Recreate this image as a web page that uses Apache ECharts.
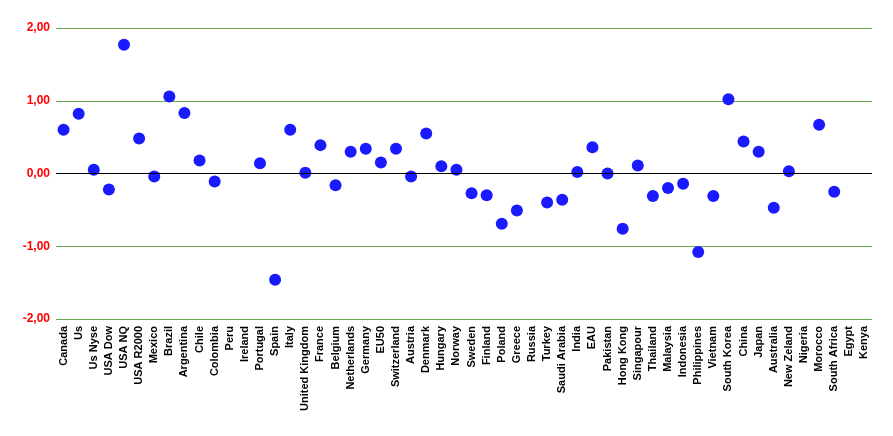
<!DOCTYPE html>
<html><head><meta charset="utf-8">
<script src="https://cdn.jsdelivr.net/npm/echarts@6/dist/echarts.min.js"></script>
<style>html,body{margin:0;padding:0;background:#fff}#c{width:893px;height:436px}</style>
</head><body><div id="c"></div>
<script>
const categories = ["Canada","Us","Us Nyse","USA Dow","USA NQ","USA R2000","Mexico","Brazil","Argentina","Chile","Colombia","Peru","Ireland","Portugal","Spain","Italy","United Kingdom","France","Belgium","Netherlands","Germany","EU50","Switzerland","Austria","Denmark","Hungary","Norway","Sweden","Finland","Poland","Greece","Russia","Turkey","Saudi Arabia","India","EAU","Pakistan","Hong Kong","Singapour","Thailand","Malaysia","Indonesia","Philippines","Vietnam","South Korea","China","Japan","Australia","New Zeland","Nigeria","Morocco","South Africa","Egypt","Kenya"];
const values = [0.60,0.82,0.05,-0.22,1.77,0.48,-0.04,1.06,0.83,0.18,-0.11,null,null,0.14,-1.46,0.60,0.01,0.39,-0.16,0.30,0.34,0.15,0.34,-0.04,0.55,0.10,0.05,-0.27,-0.30,-0.69,-0.51,null,-0.40,-0.36,0.02,0.36,0.00,-0.76,0.11,-0.31,-0.20,-0.14,-1.08,-0.31,1.02,0.44,0.30,-0.47,0.03,null,0.67,-0.25,null,null];
const yMin = -2, yMax = 2, yStep = 1;

const chart = echarts.init(document.getElementById('c'), null, {renderer:'canvas'});
chart.setOption({
  animation:false,
  grid:{left:56,right:21,top:28,bottom:117,containLabel:false},
  xAxis:{type:'category',data:categories,boundaryGap:true,
    axisLine:{show:false,onZero:false},axisTick:{show:false},
    axisLabel:{rotate:90,interval:0,margin:7,color:'#000',fontFamily:'Liberation Sans, Arial, sans-serif',fontSize:11,fontWeight:'bold'},
    splitLine:{show:false}},
  yAxis:{type:'value',min:yMin,max:yMax,interval:yStep,
    axisLine:{show:false},axisTick:{show:false},
    axisLabel:{margin:6,color:'#ff0000',fontFamily:'Liberation Sans, Arial, sans-serif',fontSize:12,fontWeight:'bold',
      formatter:v=>v.toFixed(2).replace('.',',')},
    splitLine:{show:true,lineStyle:{color:'#6aa84f',width:1}}},
  series:[{type:'scatter',data:values,symbol:'circle',symbolSize:12,
    itemStyle:{color:'#1a1aff',opacity:1},
    markLine:{silent:true,symbol:'none',label:{show:false},lineStyle:{color:'#000',width:1,type:'solid'},data:[{yAxis:0}]}
  }]
});
</script></body></html>
